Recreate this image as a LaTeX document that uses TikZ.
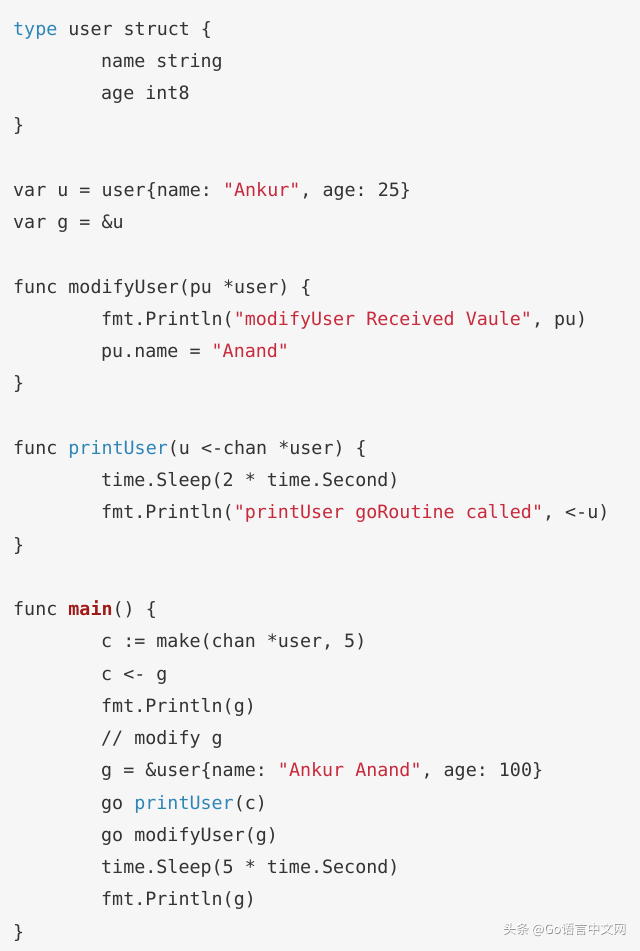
\documentclass[tikz,border=0pt]{standalone}
\usepackage{fontspec}
\setmonofont{DejaVu Sans Mono}
\newfontfamily\cjk{Noto Sans CJK SC}
\definecolor{bg}{HTML}{F6F6F6}
\definecolor{kw}{HTML}{2E86B8}
\definecolor{st}{HTML}{C82A3C}
\definecolor{mn}{HTML}{A11A1A}
\definecolor{tx}{HTML}{333333}
\newcommand{\K}[1]{\textcolor{kw}{#1}}
\newcommand{\Sx}[1]{\textcolor{st}{#1}}
\begin{document}
\begin{tikzpicture}[x=1pt,y=-1pt,
  code/.style={anchor=base west,inner sep=0pt,text=tx,font=\fontsize{18.35}{20}\ttfamily},
  wmk/.style={anchor=east,inner sep=0pt,font=\cjk\fontsize{13}{15}\selectfont}]
\fill[bg] (0,0) rectangle (640,951);
\useasboundingbox (0,0) rectangle (640,951);
\node[code] (l0) at (13,{35+32.25*0}) {\K{type} user struct \{};
\node[code] (l1) at (101,{35+32.25*1}) {name string};
\node[code] (l2) at (101,{35+32.25*2}) {age int8};
\node[code] (l3) at (13,{35+32.25*3}) {\}};
\node[code] (l5) at (13,{35+32.25*5}) {var u = user\{name: \Sx{"Ankur"}, age: 25\}};
\node[code] (l6) at (13,{35+32.25*6}) {var g = \&u};
\node[code] (l8) at (13,{35+32.25*8}) {func modifyUser(pu *user) \{};
\node[code] (l9) at (101,{35+32.25*9}) {fmt.Println(\Sx{"modifyUser Received Vaule"}, pu)};
\node[code] (l10) at (101,{35+32.25*10}) {pu.name = \Sx{"Anand"}};
\node[code] (l11) at (13,{35+32.25*11}) {\}};
\node[code] (l13) at (13,{35+32.25*13}) {func \K{printUser}(u <-chan *user) \{};
\node[code] (l14) at (101,{35+32.25*14}) {time.Sleep(2 * time.Second)};
\node[code] (l15) at (101,{35+32.25*15}) {fmt.Println(\Sx{"printUser goRoutine called"}, <-u)};
\node[code] (l16) at (13,{35+32.25*16}) {\}};
\node[code] (l18) at (13,{35+32.25*18}) {func \textcolor{mn}{\bfseries main}() \{};
\node[code] (l19) at (101,{35+32.25*19}) {c := make(chan *user, 5)};
\node[code] (l20) at (101,{35+32.25*20}) {c <- g};
\node[code] (l21) at (101,{35+32.25*21}) {fmt.Println(g)};
\node[code] (l22) at (101,{35+32.25*22}) {// modify g};
\node[code] (l23) at (101,{35+32.25*23}) {g = \&user\{name: \Sx{"Ankur Anand"}, age: 100\}};
\node[code] (l24) at (101,{35+32.25*24}) {go \K{printUser}(c)};
\node[code] (l25) at (101,{35+32.25*25}) {go modifyUser(g)};
\node[code] (l26) at (101,{35+32.25*26}) {time.Sleep(5 * time.Second)};
\node[code] (l27) at (101,{35+32.25*27}) {fmt.Println(g)};
\node[code] (l28) at (13,{35+32.25*28}) {\}};
\node[wmk,text=black!45] (wms) at (626.8,929.8) {头条 @Go语言中文网};
\node[wmk,text=white] (wm) at (626,929) {头条 @Go语言中文网};
\end{tikzpicture}
\end{document}
